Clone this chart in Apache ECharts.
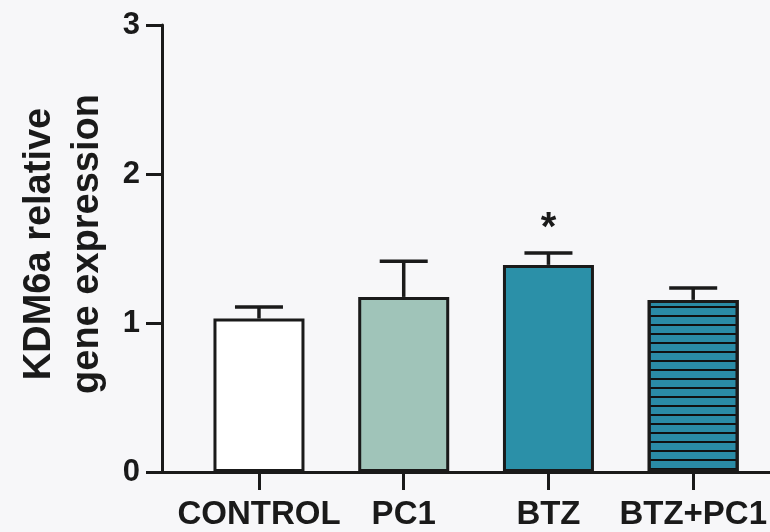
<!DOCTYPE html>
<html>
<head>
<meta charset="utf-8">
<script src="https://cdn.jsdelivr.net/npm/echarts@6/dist/echarts.min.js"></script>
<style>
  html, body { margin: 0; padding: 0; background: #f7f7f9; }
  #chart { width: 770px; height: 532px; }
</style>
</head>
<body>
<div id="chart"></div>
<script>
// ---- data ----
const categories = ['CONTROL', 'PC1', 'BTZ', 'BTZ+PC1'];
const means = [1.03, 1.175, 1.39, 1.155];
const errUpper = [0.078, 0.239, 0.08, 0.08];
const significance = ['', '', '*', ''];
const yTicks = [0, 1, 2, 3];

// ---- styles ----
const barColors = ['#ffffff', '#a0c4b9', '#2b90a8', '#2a8ba6'];
const striped = [false, false, false, true];
const ink = '#1a1a1a';
const FONT = '"Liberation Sans", Arial, Helvetica, sans-serif';

const positions = categories.map((c, i) => i);

const chart = echarts.init(document.getElementById('chart'), null, { renderer: 'canvas' });

const barData = means.map((v, i) => {
  const item = {
    value: [positions[i], v],
    itemStyle: { color: barColors[i], borderColor: ink, borderWidth: 3 }
  };
  if (striped[i]) {
    item.itemStyle.decal = {
      symbol: 'rect',
      symbolSize: 1,
      dashArrayX: [1, 0],
      dashArrayY: [1.3, 6.8],
      rotation: 0,
      color: '#111'
    };
  }
  return item;
});

const errData = means.map((v, i) => [positions[i], v, v + errUpper[i], significance[i]]);

const option = {
  backgroundColor: '#f7f7f9',
  animation: false,
  grid: { left: 162, right: 0, top: 25, bottom: 60, containLabel: false },
  xAxis: {
    type: 'value',
    min: -0.67,
    max: 3.53,
    axisLine: { show: true, onZero: false, lineStyle: { color: ink, width: 3 } },
    axisTick: { show: true, customValues: positions, length: 18, lineStyle: { color: ink, width: 3 } },
    axisLabel: {
      customValues: positions,
      formatter: (v) => categories[Math.round(v)] || '',
      color: ink, fontFamily: FONT, fontWeight: 'bold', fontSize: 33, margin: 26
    },
    splitLine: { show: false }
  },
  yAxis: {
    type: 'value',
    min: yTicks[0],
    max: yTicks[yTicks.length - 1],
    interval: 1,
    axisLine: { show: true, onZero: false, lineStyle: { color: ink, width: 3 } },
    axisTick: { show: true, length: 16, lineStyle: { color: ink, width: 3 } },
    axisLabel: { color: ink, fontFamily: FONT, fontWeight: 'bold', fontSize: 31, margin: 22 },
    splitLine: { show: false }
  },
  graphic: [{
    type: 'text',
    x: 64, y: 244,
    rotation: Math.PI / 2,
    style: {
      text: 'KDM6a relative\ngene expression',
      fontFamily: FONT, fontWeight: 'bold', fontSize: 38, lineHeight: 48,
      fill: ink, align: 'center', verticalAlign: 'middle'
    }
  }],
  series: [
    {
      type: 'bar',
      barWidth: 91,
      data: barData,
      z: 2
    },
    {
      type: 'custom',
      z: 1,
      data: errData,
      renderItem: function (params, api) {
        const x = api.value(0);
        const top = api.coord([x, api.value(1)]);
        const hi = api.coord([x, api.value(2)]);
        const capHalf = 24;
        const children = [
          { type: 'line', shape: { x1: top[0], y1: top[1], x2: hi[0], y2: hi[1] },
            style: { stroke: ink, lineWidth: 3.5 } },
          { type: 'line', shape: { x1: hi[0] - capHalf, y1: hi[1], x2: hi[0] + capHalf, y2: hi[1] },
            style: { stroke: ink, lineWidth: 3.5 } }
        ];
        const sig = errData[params.dataIndex][3];
        if (sig) {
          children.push({ type: 'text', x: hi[0], y: hi[1] - 24,
            style: { text: sig, fill: ink, fontFamily: FONT, fontWeight: 'bold', fontSize: 40,
              align: 'center', verticalAlign: 'middle' } });
        }
        return { type: 'group', children: children };
      }
    }
  ]
};

chart.setOption(option);
</script>
</body>
</html>
